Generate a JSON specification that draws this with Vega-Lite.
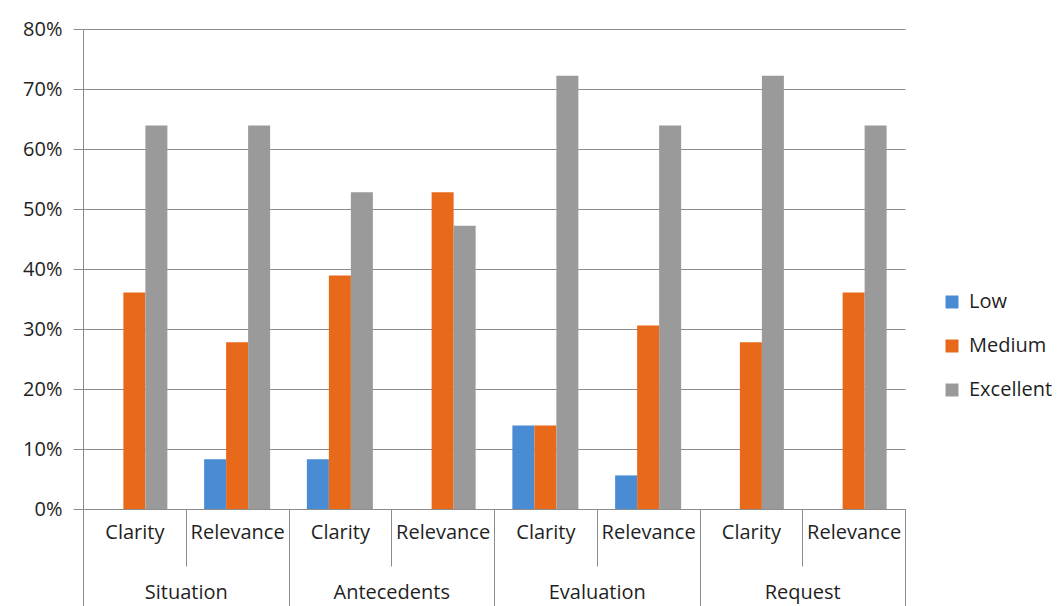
{
  "$schema": "https://vega.github.io/schema/vega-lite/v6.json",
  "width": 822,
  "height": 480,
  "autosize": {"type": "none"},
  "padding": {"left": 83, "top": 29, "right": 153, "bottom": 97},
  "background": "white",
  "config": {
    "view": {"stroke": null},
    "font": "Open Sans",
    "axis": {"domainColor": "#8c8c8c", "tickColor": "#8c8c8c", "gridColor": "#8c8c8c", "labelColor": "#1f1f1f", "labelFont": "Open Sans", "labelFontSize": 20, "domainWidth": 1, "tickWidth": 1, "gridWidth": 1}
  },
  "data": {
    "values": [
      {"group": "Situation", "key": "Situation|Clarity", "level": "Low", "value": 0},
      {"group": "Situation", "key": "Situation|Clarity", "level": "Medium", "value": 0.361},
      {"group": "Situation", "key": "Situation|Clarity", "level": "Excellent", "value": 0.639},
      {"group": "Situation", "key": "Situation|Relevance", "level": "Low", "value": 0.083},
      {"group": "Situation", "key": "Situation|Relevance", "level": "Medium", "value": 0.278},
      {"group": "Situation", "key": "Situation|Relevance", "level": "Excellent", "value": 0.639},
      {"group": "Antecedents", "key": "Antecedents|Clarity", "level": "Low", "value": 0.083},
      {"group": "Antecedents", "key": "Antecedents|Clarity", "level": "Medium", "value": 0.389},
      {"group": "Antecedents", "key": "Antecedents|Clarity", "level": "Excellent", "value": 0.528},
      {"group": "Antecedents", "key": "Antecedents|Relevance", "level": "Low", "value": 0},
      {"group": "Antecedents", "key": "Antecedents|Relevance", "level": "Medium", "value": 0.528},
      {"group": "Antecedents", "key": "Antecedents|Relevance", "level": "Excellent", "value": 0.472},
      {"group": "Evaluation", "key": "Evaluation|Clarity", "level": "Low", "value": 0.139},
      {"group": "Evaluation", "key": "Evaluation|Clarity", "level": "Medium", "value": 0.139},
      {"group": "Evaluation", "key": "Evaluation|Clarity", "level": "Excellent", "value": 0.722},
      {"group": "Evaluation", "key": "Evaluation|Relevance", "level": "Low", "value": 0.056},
      {"group": "Evaluation", "key": "Evaluation|Relevance", "level": "Medium", "value": 0.306},
      {"group": "Evaluation", "key": "Evaluation|Relevance", "level": "Excellent", "value": 0.639},
      {"group": "Request", "key": "Request|Clarity", "level": "Low", "value": 0},
      {"group": "Request", "key": "Request|Clarity", "level": "Medium", "value": 0.278},
      {"group": "Request", "key": "Request|Clarity", "level": "Excellent", "value": 0.722},
      {"group": "Request", "key": "Request|Relevance", "level": "Low", "value": 0},
      {"group": "Request", "key": "Request|Relevance", "level": "Medium", "value": 0.361},
      {"group": "Request", "key": "Request|Relevance", "level": "Excellent", "value": 0.639}
    ]
  },
  "layer": [
    {
      "mark": {"type": "bar"},
      "encoding": {
        "x": {
          "field": "key", "type": "nominal", "sort": null,
          "scale": {"paddingInner": 0, "paddingOuter": 0},
          "axis": {"title": null, "orient": "bottom", "labelExpr": "split(datum.label, '|')[1]", "tickBand": "extent", "tickSize": 57, "labelPadding": -43.5, "labelAngle": 0, "labelBaseline": "top"}
        },
        "xOffset": {
          "field": "level", "type": "nominal", "sort": ["Low", "Medium", "Excellent"],
          "scale": {"paddingInner": 0, "paddingOuter": 0.835}
        },
        "y": {
          "field": "value", "type": "quantitative",
          "scale": {"domain": [0, 0.8], "nice": false},
          "axis": {"title": null, "format": ".0%", "values": [0, 0.1, 0.2, 0.3, 0.4, 0.5, 0.6, 0.7, 0.8], "tickSize": 10, "grid": true, "labelPadding": 11}
        },
        "color": {
          "field": "level", "type": "nominal", "sort": ["Low", "Medium", "Excellent"],
          "scale": {"domain": ["Low", "Medium", "Excellent"], "range": ["#4a8cd3", "#e8691a", "#9a9a9a"]},
          "legend": {"title": null, "orient": "none", "legendX": 859, "legendY": 263, "padding": 0, "symbolType": "square", "symbolSize": 169, "symbolStrokeWidth": 0, "labelFontSize": 20, "labelFont": "Open Sans", "labelColor": "#1f1f1f", "labelOffset": 7, "rowPadding": 24}
        }
      }
    },
    {
      "mark": {"type": "point", "opacity": 0},
      "encoding": {
        "x": {
          "field": "group", "type": "nominal", "sort": null,
          "scale": {"type": "band", "paddingInner": 0, "paddingOuter": 0},
          "axis": {"title": null, "orient": "bottom", "domain": false, "tickBand": "extent", "tickSize": 97, "labelPadding": -23.5, "labelAngle": 0, "labelBaseline": "top"}
        }
      }
    }
  ],
  "resolve": {"scale": {"x": "independent"}, "axis": {"x": "independent"}}
}
